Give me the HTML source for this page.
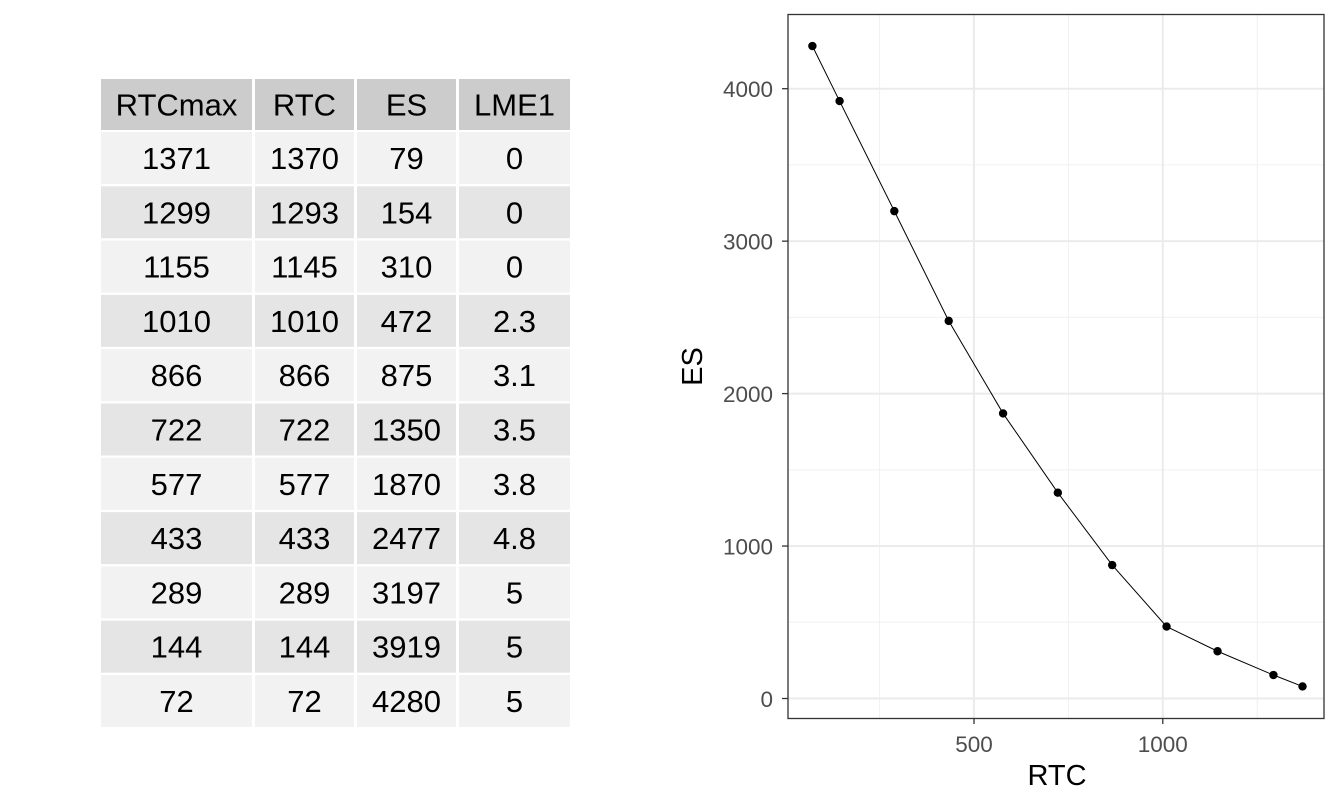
<!DOCTYPE html>
<html><head><meta charset="utf-8"><style>
body{margin:0;background:#fff;}
svg text{font-family:"Liberation Sans",Arial,sans-serif;}
</style></head><body>
<svg width="1344" height="806" viewBox="0 0 1344 806" xmlns="http://www.w3.org/2000/svg">
<rect width="1344" height="806" fill="#fff"/>
<g id="table" font-size="31" text-anchor="middle" fill="#000">
</g>
<g id="plot"></g>
</svg>
<script>
const ns="http://www.w3.org/2000/svg";
function el(p,t,a,txt){const e=document.createElementNS(ns,t);for(const k in a)e.setAttribute(k,a[k]);if(txt!==undefined)e.textContent=txt;p.appendChild(e);return e;}
const T=document.getElementById('table');
const cols=[[101,252],[255,354],[357,456],[459,570]];
const rows=[["RTCmax","RTC","ES","LME1"],["1371","1370","79","0"],["1299","1293","154","0"],["1155","1145","310","0"],["1010","1010","472","2.3"],["866","866","875","3.1"],["722","722","1350","3.5"],["577","577","1870","3.8"],["433","433","2477","4.8"],["289","289","3197","5"],["144","144","3919","5"],["72","72","4280","5"]];
rows.forEach((r,i)=>{
 let top,h;
 if(i==0){top=79;h=51;}else{top=77.7+54.3*i;h=52;}
 const fill=i==0?"#cccccc":(i%2==1?"#f2f2f2":"#e5e5e5");
 r.forEach((v,j)=>{
  const [a,b]=cols[j];
  el(T,'rect',{x:a,y:top,width:b-a,height:h,fill:fill});
  el(T,'text',{x:(a+b)/2,y:top+h/2+11},v);
 });
});
const P=document.getElementById('plot');
const X=v=>785.2+v*0.3776, Y=v=>698.5-v*0.15245;
[250,750,1250].forEach(v=>el(P,'line',{x1:X(v),x2:X(v),y1:14,y2:718,stroke:'#f0f0f0','stroke-width':1}));
[500,1500,2500,3500].forEach(v=>el(P,'line',{x1:788,x2:1324,y1:Y(v),y2:Y(v),stroke:'#f0f0f0','stroke-width':1}));
[500,1000].forEach(v=>el(P,'line',{x1:X(v),x2:X(v),y1:14,y2:718,stroke:'#ebebeb','stroke-width':2}));
[0,1000,2000,3000,4000].forEach(v=>el(P,'line',{x1:788,x2:1324,y1:Y(v),y2:Y(v),stroke:'#ebebeb','stroke-width':2}));
el(P,'rect',{x:788,y:14.5,width:536,height:704,fill:'none',stroke:'#333','stroke-width':1.3});
[0,1000,2000,3000,4000].forEach(v=>{el(P,'line',{x1:782,x2:788,y1:Y(v),y2:Y(v),stroke:'#333','stroke-width':1.3});el(P,'text',{x:773,y:Y(v)+8.5,'font-size':22.5,'text-anchor':'end',fill:'#4d4d4d'},v);});
[500,1000].forEach(v=>{el(P,'line',{x1:X(v),x2:X(v),y1:718,y2:724,stroke:'#333','stroke-width':1.3});el(P,'text',{x:X(v),y:752,'font-size':22.5,'text-anchor':'middle',fill:'#4d4d4d'},v);});
el(P,'text',{x:1057,y:785,'font-size':29,'text-anchor':'middle',fill:'#000'},'RTC');
el(P,'text',{x:0,y:0,'font-size':29,'text-anchor':'middle',fill:'#000',transform:'translate(702,366.5) rotate(-90)'},'ES');
const d=rows.slice(1).map(r=>[+r[1],+r[2]]).reverse();
el(P,'polyline',{points:d.map(p=>X(p[0])+','+Y(p[1])).join(' '),fill:'none',stroke:'#000','stroke-width':1});
d.forEach(p=>el(P,'circle',{cx:X(p[0]),cy:Y(p[1]),r:4.2,fill:'#000'}));
</script>
</body></html>
